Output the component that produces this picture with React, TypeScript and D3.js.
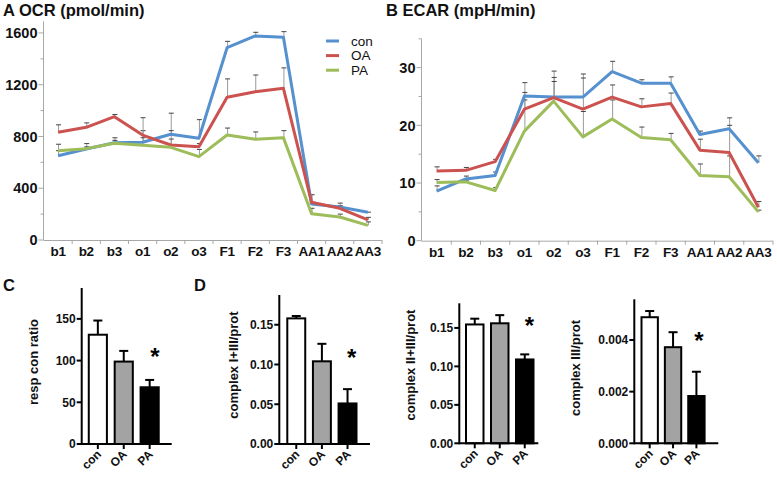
import React from "react";
import * as d3 from "d3";

const CATS = ["b1", "b2", "b3", "o1", "o2", "o3", "F1", "F2", "F3", "AA1", "AA2", "AA3"];
const SERIES = ["con", "OA", "PA"];

const OCR_CON = [651, 703, 752, 755, 817, 786, 1486, 1577, 1566, 278, 255, 214];
const OCR_OA = [832, 871, 953, 811, 734, 721, 1103, 1146, 1172, 291, 245, 155];
const OCR_PA = [690, 706, 747, 732, 716, 644, 811, 778, 791, 203, 178, 113];
const OCR_CON_ERR = [690, 745, 790, 845, 980, 930, 1535, 1605, 1610, 285, 285, 215];
const OCR_OA_ERR = [890, 905, 970, 945, 845, 745, 1245, 1275, 1330, 350, 265, 175];
const OCR_PA_ERR = [740, 720, 770, 790, 780, 700, 865, 835, 845, 245, 200, 140];
const OCR_TICKS = [0, 400, 800, 1200, 1600];
const OCR_MINOR = [200, 600, 1000, 1400];

const ECAR_CON = [8.6, 10.7, 11.3, 25.1, 24.9, 24.9, 29.3, 27.3, 27.3, 18.4, 19.4, 13.5];
const ECAR_OA = [12.1, 12.2, 13.7, 22.8, 24.8, 22.8, 24.9, 23.2, 23.8, 15.7, 15.3, 5.8];
const ECAR_PA = [10.1, 10.2, 8.7, 19.0, 24.2, 18.0, 21.1, 17.9, 17.5, 11.3, 11.1, 5.0];
const ECAR_CON_ERR = [9.5, 11.2, 11.9, 27.4, 29.4, 28.9, 31.1, 27.9, 28.4, 19.0, 21.3, 14.7];
const ECAR_OA_ERR = [12.8, 12.7, 14.1, 25.7, 28.3, 28.2, 27.0, 24.6, 25.6, 17.6, 20.0, 6.8];
const ECAR_PA_ERR = [10.6, 10.5, 9.2, 24.4, 27.6, 22.4, 24.4, 19.7, 18.6, 13.3, 14.7, 5.3];
const ECAR_TICKS = [0, 10, 20, 30];
const ECAR_MINOR = [5, 15, 25, 35];

const BAR_GROUPS = ["con", "OA", "PA"];
const RESP_VALUES = [131, 98.8, 68];
const RESP_ERR = [148, 111.6, 76.8];
const RESP_TICKS = [0, 50, 100, 150];

const C13_VALUES = [0.158, 0.104, 0.051];
const C13_ERR = [0.161, 0.126, 0.069];
const C13_TICKS = [0, 0.05, 0.1, 0.15];

const C23_VALUES = [0.1545, 0.156, 0.109];
const C23_ERR = [0.162, 0.1666, 0.1156];
const C23_TICKS = [0, 0.05, 0.1, 0.15];

const C3_VALUES = [0.00488, 0.00372, 0.00183];
const C3_ERR = [0.00512, 0.0043, 0.00277];
const C3_TICKS = [0, 0.002, 0.004];

const LINE_COLORS = ["#5590cf", "#cb524f", "#9dbd5a"];
const BAR_FILLS = ["#ffffff", "#a3a3a3", "#000000"];
const FONT = "'Liberation Sans', Arial, sans-serif";

type LineProps = {
  title: string;
  titleX: number;
  values: number[][];
  errs: number[][];
  ticks: number[];
  minor: number[];
  domainMax: number;
  xRange: [number, number];
  yRange: [number, number];
  legend?: boolean;
  fmt: (v: number) => string;
};

function LinePanel(p: LineProps) {
  const x = d3.scaleBand<string>().domain(CATS).range(p.xRange).padding(0);
  const y = d3.scaleLinear().domain([0, p.domainMax]).range(p.yRange);
  const bw = x.bandwidth();
  const cx = (c: string) => (x(c) as number) + bw / 2;
  const x0 = p.xRange[0] - 0.5;
  const y0 = y(0);
  const axisCol = "#a8a8a8";
  const line = d3
    .line<number>()
    .x((_, i) => cx(CATS[i]))
    .y((v) => y(v));
  return (
    <g>
      <text x={p.titleX} y={16} fontFamily={FONT} fontWeight="bold" fontSize={16.5} fill="#111">
        {p.title}
      </text>
      <line x1={x0} x2={x0} y1={y(p.domainMax)} y2={y0} stroke={axisCol} strokeWidth={1} />
      <line x1={x0} x2={p.xRange[1]} y1={y0 + 0.5} y2={y0 + 0.5} stroke={axisCol} strokeWidth={1} />
      {p.ticks.map((t) => (
        <g key={"t" + t}>
          <line x1={x0 - 5} x2={x0} y1={y(t)} y2={y(t)} stroke={axisCol} />
          <text
            x={x0 - 6}
            y={y(t)}
            dy="0.36em"
            textAnchor="end"
            fontFamily={FONT}
            fontWeight="bold"
            fontSize={14.5}
            fill="#111"
          >
            {p.fmt(t)}
          </text>
        </g>
      ))}
      {p.minor.map((t) => (
        <line key={"m" + t} x1={x0 - 3} x2={x0} y1={y(t)} y2={y(t)} stroke={axisCol} />
      ))}
      {CATS.map((c) => (
        <g key={"x" + c}>
          <line x1={(x(c) as number) + bw} x2={(x(c) as number) + bw} y1={y0} y2={y0 + 4} stroke={axisCol} />
          <text
            x={cx(c)}
            y={y0 + 16}
            textAnchor="middle"
            fontFamily={FONT}
            fontWeight="bold"
            fontSize={13.5}
            letterSpacing={-0.3}
            fill="#111"
          >
            {c}
          </text>
        </g>
      ))}
      {p.values.map((vals, si) =>
        vals.map((v, i) => {
          const e = p.errs[si][i];
          const xx = cx(CATS[i]) + 0.5;
          return (
            <g key={"e" + si + "-" + i}>
              <line x1={xx} x2={xx} y1={y(v)} y2={y(e)} stroke="#9a9a9a" strokeWidth={1} />
              <line x1={xx - 2.5} x2={xx + 2.5} y1={y(e)} y2={y(e)} stroke="#444" strokeWidth={1} />
            </g>
          );
        })
      )}
      {p.values.map((vals, si) => (
        <path
          key={"l" + si}
          d={line(vals) as string}
          fill="none"
          stroke={LINE_COLORS[si]}
          strokeWidth={3}
          strokeLinejoin="round"
        />
      ))}
      {p.legend &&
        SERIES.map((s, i) => (
          <g key={"lg" + s}>
            <line
              x1={326}
              x2={339}
              y1={41 + i * 14.6}
              y2={41 + i * 14.6}
              stroke={LINE_COLORS[i]}
              strokeWidth={3}
            />
            <text x={351} y={41 + i * 14.6} dy="0.36em" fontFamily={FONT} fontSize={13.5} fill="#111">
              {s}
            </text>
          </g>
        ))}
    </g>
  );
}

type BarProps = {
  values: number[];
  errs: number[];
  ticks: number[];
  domainMax: number;
  axisX: number;
  axisEnd: number;
  xRange: [number, number];
  yRange: [number, number];
  label: string;
  labelX: number;
  labelY: number;
  star: [number, number];
  fmt: (v: number) => string;
};

function BarPanel(p: BarProps) {
  const x = d3.scaleBand<string>().domain(BAR_GROUPS).range(p.xRange).padding(0.3);
  const y = d3.scaleLinear().domain([0, p.domainMax]).range(p.yRange);
  const y0 = y(0);
  const bw = x.bandwidth();
  return (
    <g>
      {BAR_GROUPS.map((g, i) => {
        const bx = x(g) as number;
        const cxx = bx + bw / 2;
        return (
          <g key={g}>
            <line x1={cxx} x2={cxx} y1={y(p.values[i])} y2={y(p.errs[i])} stroke="#000" strokeWidth={2} />
            <line x1={cxx - 4.5} x2={cxx + 4.5} y1={y(p.errs[i])} y2={y(p.errs[i])} stroke="#000" strokeWidth={2} />
            <rect
              x={bx}
              y={y(p.values[i])}
              width={bw}
              height={y0 - y(p.values[i])}
              fill={BAR_FILLS[i]}
              stroke="#000"
              strokeWidth={2}
            />
            <line x1={cxx} x2={cxx} y1={y0} y2={y0 + 5} stroke="#000" strokeWidth={2} />
            <text
              transform={`translate(${cxx + 4},${y0 + 11}) rotate(-45)`}
              textAnchor="end"
              fontFamily={FONT}
              fontWeight="bold"
              fontSize={12}
              fill="#111"
            >
              {g}
            </text>
          </g>
        );
      })}
      <line x1={p.axisX} x2={p.axisX} y1={y(p.domainMax)} y2={y0 + 1} stroke="#000" strokeWidth={2} />
      <line x1={p.axisX} x2={p.axisEnd} y1={y0} y2={y0} stroke="#000" strokeWidth={2} />
      {p.ticks.map((t) => (
        <g key={t}>
          <line x1={p.axisX - 5} x2={p.axisX} y1={y(t)} y2={y(t)} stroke="#000" strokeWidth={2} />
          <text
            x={p.axisX - 6}
            y={y(t)}
            dy="0.36em"
            textAnchor="end"
            fontFamily={FONT}
            fontWeight="bold"
            fontSize={12}
            fill="#111"
          >
            {p.fmt(t)}
          </text>
        </g>
      ))}
      <text
        transform={`translate(${p.labelX},${p.labelY}) rotate(-90)`}
        textAnchor="middle"
        dy="0.36em"
        fontFamily={FONT}
        fontWeight="bold"
        fontSize={13}
        fill="#111"
      >
        {p.label}
      </text>
      <text
        x={p.star[0]}
        y={p.star[1] + 12.5}
        textAnchor="middle"
        fontFamily={FONT}
        fontWeight="bold"
        fontSize={24}
        fill="#000"
      >
        *
      </text>
    </g>
  );
}

export default function App() {
  return (
    <svg
      width={777}
      height={478}
      style={{ position: "absolute", left: 0, top: 0, background: "#fff" }}
      xmlns="http://www.w3.org/2000/svg"
    >
      <rect width={777} height={478} fill="#fff" />
      <LinePanel
        title="A OCR (pmol/min)"
        titleX={3}
        values={[OCR_CON, OCR_OA, OCR_PA]}
        errs={[OCR_CON_ERR, OCR_OA_ERR, OCR_PA_ERR]}
        ticks={OCR_TICKS}
        minor={OCR_MINOR}
        domainMax={1690}
        xRange={[44, 382]}
        yRange={[240, 21.3]}
        legend
        fmt={(v) => String(v)}
      />
      <LinePanel
        title="B ECAR (mpH/min)"
        titleX={386}
        values={[ECAR_CON, ECAR_OA, ECAR_PA]}
        errs={[ECAR_CON_ERR, ECAR_OA_ERR, ECAR_PA_ERR]}
        ticks={ECAR_TICKS}
        minor={ECAR_MINOR}
        domainMax={35}
        xRange={[422, 773]}
        yRange={[240.7, 38.8]}
        fmt={(v) => String(v)}
      />
      <text x={3} y={291} fontFamily={FONT} fontWeight="bold" fontSize={16.5} fill="#111">
        C
      </text>
      <text x={194} y={291} fontFamily={FONT} fontWeight="bold" fontSize={16.5} fill="#111">
        D
      </text>
      <BarPanel
        values={RESP_VALUES}
        errs={RESP_ERR}
        ticks={RESP_TICKS}
        domainMax={187}
        axisX={81.7}
        axisEnd={171.7}
        xRange={[81, 166.5]}
        yRange={[444, 288]}
        label="resp con ratio"
        labelX={33}
        labelY={362}
        star={[155, 352]}
        fmt={(v) => String(v)}
      />
      <BarPanel
        values={C13_VALUES}
        errs={C13_ERR}
        ticks={C13_TICKS}
        domainMax={0.1874}
        axisX={279.3}
        axisEnd={370}
        xRange={[279.6, 364.2]}
        yRange={[444, 295]}
        label="complex I+III/prot"
        labelX={233.3}
        labelY={365}
        star={[351.7, 353.3]}
        fmt={(v) => v.toFixed(2)}
      />
      <BarPanel
        values={C23_VALUES}
        errs={C23_ERR}
        ticks={C23_TICKS}
        domainMax={0.182}
        axisX={459.3}
        axisEnd={538.3}
        xRange={[458.5, 541]}
        yRange={[443.3, 303.3]}
        label="complex II+III/prot"
        labelX={410.7}
        labelY={365}
        star={[529.3, 321.7]}
        fmt={(v) => v.toFixed(2)}
      />
      <BarPanel
        values={C3_VALUES}
        errs={C3_ERR}
        ticks={C3_TICKS}
        domainMax={0.005574}
        axisX={634.3}
        axisEnd={718.3}
        xRange={[634.5, 711.6]}
        yRange={[443.3, 299.3]}
        label="complex III/prot"
        labelX={575}
        labelY={368}
        star={[699, 336.7]}
        fmt={(v) => v.toFixed(3)}
      />
    </svg>
  );
}
